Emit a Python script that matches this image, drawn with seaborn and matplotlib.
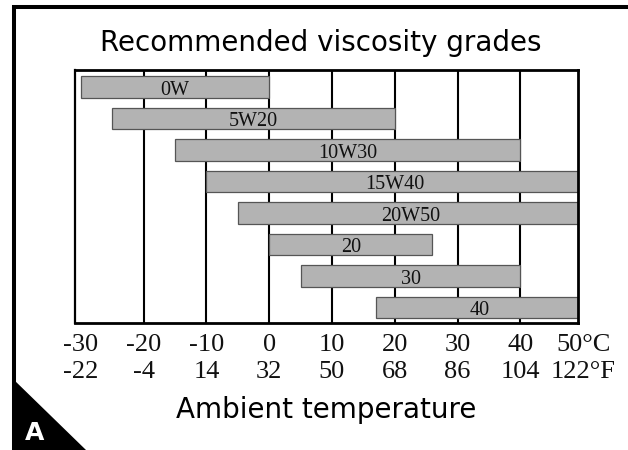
import matplotlib
matplotlib.use("Agg")
import matplotlib.pyplot as plt
import matplotlib.transforms as mtransforms
from matplotlib.lines import Line2D
from matplotlib.patches import Polygon
import seaborn as sns

# Oil grades and their recommended ambient temperature range (deg C)
grades = ["0W", "5W20", "10W30", "15W40", "20W50", "20", "30", "40"]
temp_low = [-30, -25, -15, -10, -5, 0, 5, 17]
temp_high = [0, 20, 40, 50, 50, 26, 40, 50]

# Axis tick labels in Celsius and the matching Fahrenheit row
celsius_ticks = [-30, -20, -10, 0, 10, 20, 30, 40, 50]
celsius_labels = ["-30", "-20", "-10", "0", "10", "20", "30", "40", "50°C"]
fahrenheit_labels = ["-22", "-4", "14", "32", "50", "68", "86", "104", "122°F"]

sns.set_theme(style="white")
plt.rcParams["font.family"] = ["DejaVu Sans"]

W, H = 628, 450
fig = plt.figure(figsize=(W / 100, H / 100), dpi=100)
fig.patch.set_facecolor("white")

ax = fig.add_axes([75 / W, 1 - 323 / H, 503 / W, 253 / H])
ax.set_facecolor("white")

spans = [hi - lo for lo, hi in zip(temp_low, temp_high)]
sns.barplot(x=spans, y=grades, orient="h", width=0.69, color="#b3b3b3",
            saturation=1, edgecolor="#555555", linewidth=0.9,
            errorbar=None, ax=ax)

# Shift each bar so it starts at the lower temperature limit
for patch, lo in zip(ax.patches, temp_low):
    patch.set_x(lo)
    patch.set_zorder(2)

ax.set_xlim(-30.92, 49.17)
ax.set_ylim(7.49, -0.54)

# Vertical guide lines every 10 degrees
ax.vlines(celsius_ticks[1:-1], -1, 9, colors="black", linewidth=1.5, zorder=1)

ax.set_xticks([])
ax.set_yticks([])
ax.set_xlabel("")
ax.set_ylabel("")
for side, lw in {"top": 2.0, "bottom": 2.0, "left": 1.6, "right": 2.0}.items():
    ax.spines[side].set_visible(True)
    ax.spines[side].set_color("black")
    ax.spines[side].set_linewidth(lw)
    ax.spines[side].set_zorder(3)

serif = ["Liberation Serif", "DejaVu Serif"]

# Grade names centred on their bars
for i, (g, lo, hi) in enumerate(zip(grades, temp_low, temp_high)):
    ax.text((lo + min(hi, 50)) / 2, i + 0.25, g, ha="center", va="baseline",
            fontsize=14.5, family=serif, color="#111111", zorder=4)

# Two rows of temperature labels below the plot
tr = mtransforms.blended_transform_factory(ax.transData, fig.transFigure)
for t, c_lab, f_lab in zip(celsius_ticks, celsius_labels, fahrenheit_labels):
    ax.text(t, 1 - 350.7 / H, c_lab, transform=tr, ha="center", va="baseline",
            fontsize=19, family=serif, color="#111111", clip_on=False)
    ax.text(t, 1 - 378.3 / H, f_lab, transform=tr, ha="center", va="baseline",
            fontsize=19, family=serif, color="#111111", clip_on=False)

fig.text(321 / W, 1 - 51.4 / H, "Recommended viscosity grades", ha="center",
         va="baseline", fontsize=20, family=["DejaVu Sans"], color="black")
fig.text(326 / W, 1 - 418 / H, "Ambient temperature", ha="center",
         va="baseline", fontsize=20, family=["DejaVu Sans"], color="black")

# Panel frame (top and left edges) and the corner tab with the panel letter
fig.add_artist(Line2D([12 / W, 1.0], [1 - 6.5 / H, 1 - 6.5 / H],
                      color="black", linewidth=2.9, solid_capstyle="butt"))
fig.add_artist(Line2D([14 / W, 14 / W], [0.0, 1 - 4.5 / H],
                      color="black", linewidth=2.9, solid_capstyle="butt"))
fig.add_artist(Polygon([(12 / W, 1 - 378 / H), (12 / W, 0.0), (86 / W, 0.0)],
                       closed=True, facecolor="black", edgecolor="none",
                       transform=fig.transFigure))
fig.text(35 / W, 1 - 440 / H, "A", ha="center", va="baseline", fontsize=18,
         fontweight="bold", family=["DejaVu Sans"], color="white")

fig.savefig("out.png", dpi=100)
